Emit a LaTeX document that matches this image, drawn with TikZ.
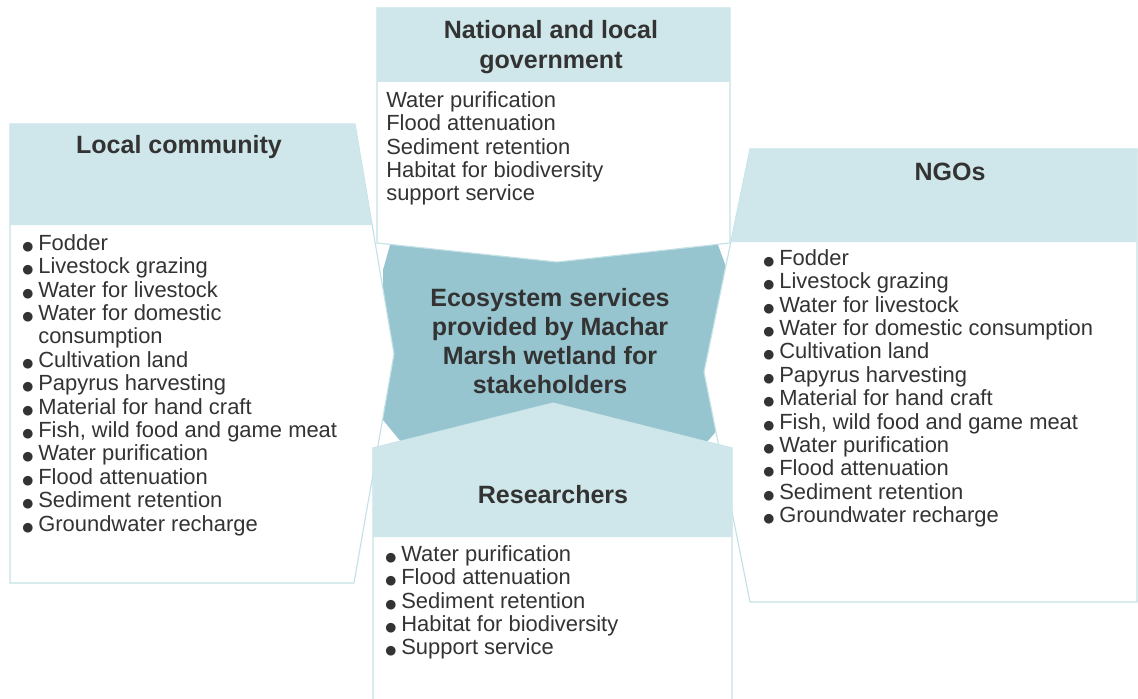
\documentclass[tikz,border=0pt]{standalone}
\usepackage{fontspec}
\setmainfont{Liberation Sans}
\newfontfamily\dotfont{DejaVu Sans}
\usetikzlibrary{positioning}
\definecolor{headcyan}{HTML}{CFE7EA}
\definecolor{coreteal}{HTML}{96C4CF}
\definecolor{edgecyan}{HTML}{C4E2E6}
\definecolor{textgray}{HTML}{333333}
\newcommand{\itemdot}{\makebox[10.7pt][l]{\kern-0.6pt{\dotfont\fontsize{9}{9}\selectfont ●}}}

\begin{document}
\begin{tikzpicture}[x=0.025cm, y=-0.025cm,
  panel/.style={fill=white, draw=edgecyan, line width=0.8pt},
  headfill/.style={fill=headcyan},
  headtext/.style={font=\fontsize{17.8}{20.8}\selectfont\bfseries, text=textgray, align=center, inner sep=0pt},
  listtext/.style={anchor=north west, align=left, inner sep=0pt, font=\fontsize{15.6}{16.65}\selectfont, text=textgray}]
  \useasboundingbox (0,0) rectangle (1138,698);
  \clip (0,0) rectangle (1138,698);

  \fill[coreteal] (390,245) -- (718,245) -- (728,272) -- (728,418) -- (706,443) -- (402,443) -- (383,420) -- (383,270) -- cycle;

  \draw[panel] (377,8) -- (730,8) -- (730,243) -- (557,262) -- (377,243) -- cycle;
  \fill[headfill] (377,8) rectangle (730,82);

  \draw[panel] (10,124) -- (355,124) -- (394,354) -- (354,583) -- (10,583) -- cycle;
  \fill[headfill] (10,124) -- (355,124) -- (372,225) -- (10,225) -- cycle;

  \draw[panel] (750,149) -- (1137,149) -- (1137,602) -- (750,602) -- (704,372) -- cycle;
  \fill[headfill] (750,149) -- (1137,149) -- (1137,242) -- (731,242) -- cycle;

  \draw[panel] (373,448) -- (553,403) -- (732,448) -- (732,710) -- (373,710) -- cycle;
  \fill[headfill] (373,448) -- (553,403) -- (732,448) -- (732,537) -- (373,537) -- cycle;

  \node[headtext] (govhead) at (551,47) {National and local\\government};
  \node[listtext] (govlist) at (386,91) {Water purification\\Flood attenuation\\Sediment retention\\Habitat for biodiversity\\support service};

  \node[headtext] (comhead) at (179,147) {Local community};
  \node[listtext] (comlist) at (23,234) {\itemdot Fodder\\\itemdot Livestock grazing\\\itemdot Water for livestock\\\itemdot Water for domestic\\\hspace*{10.7pt}consumption\\\itemdot Cultivation land\\\itemdot Papyrus harvesting\\\itemdot Material for hand craft\\\itemdot Fish, wild food and game meat\\\itemdot Water purification\\\itemdot Flood attenuation\\\itemdot Sediment retention\\\itemdot Groundwater recharge};

  \node[headtext] (ngohead) at (950,172) {NGOs};
  \node[listtext] (ngolist) at (764,249) {\itemdot Fodder\\\itemdot Livestock grazing\\\itemdot Water for livestock\\\itemdot Water for domestic consumption\\\itemdot Cultivation land\\\itemdot Papyrus harvesting\\\itemdot Material for hand craft\\\itemdot Fish, wild food and game meat\\\itemdot Water purification\\\itemdot Flood attenuation\\\itemdot Sediment retention\\\itemdot Groundwater recharge};

  \node[headtext] (core) at (550,341) {Ecosystem services\\provided by Machar\\Marsh wetland for\\stakeholders};

  \node[headtext] (reshead) at (553,495) {Researchers};
  \node[listtext] (reslist) at (386,545) {\itemdot Water purification\\\itemdot Flood attenuation\\\itemdot Sediment retention\\\itemdot Habitat for biodiversity\\\itemdot Support service};
\end{tikzpicture}
\end{document}
